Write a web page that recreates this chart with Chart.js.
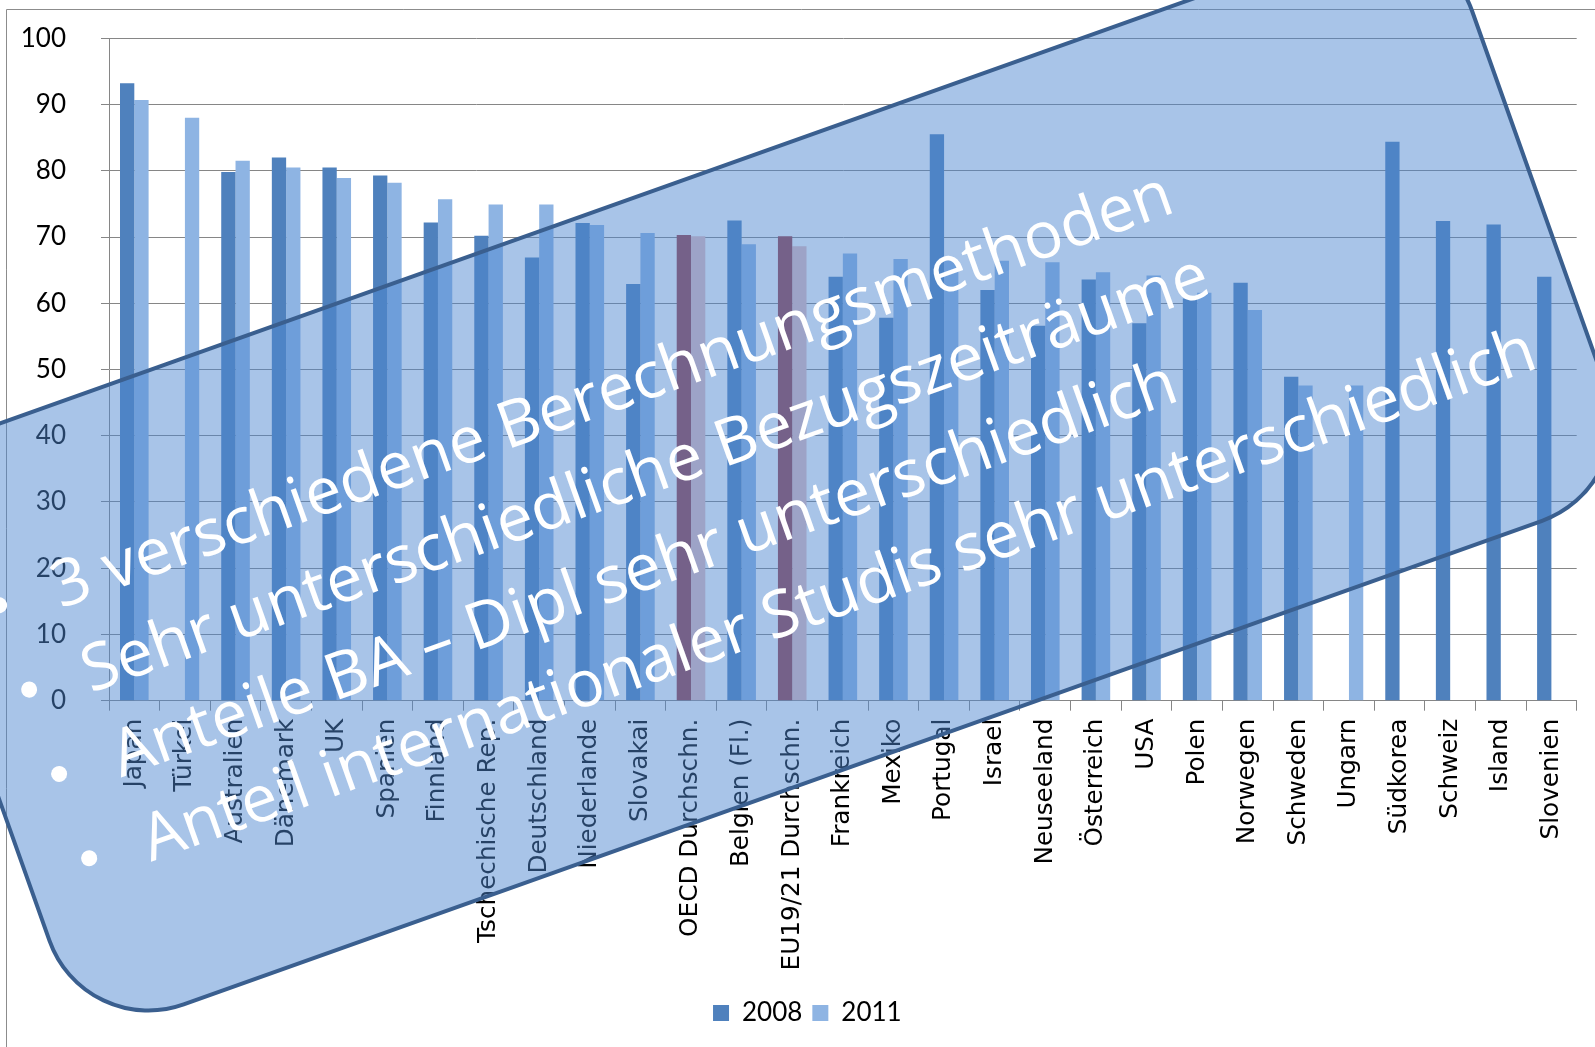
<!DOCTYPE html>
<html lang="de">
<head>
<meta charset="utf-8">
<title>Studienerfolg 2008 / 2011</title>
<script src="https://cdn.jsdelivr.net/npm/chart.js@4/dist/chart.umd.min.js"></script>
<style>
  html, body { margin: 0; padding: 0; background: #ffffff; }
  #wrap { width: 1595px; height: 1047px; }
</style>
</head>
<body>
<div id="wrap"><canvas id="chart" width="1595" height="1047"></canvas></div>
<script>
// Länder / Durchschnitte in Reihenfolge der Darstellung
const categories = [
  'Japan', 'Türkei', 'Australien', 'Dänemark', 'UK', 'Spanien', 'Finnland',
  'Tschechische Rep.', 'Deutschland', 'Niederlande', 'Slovakai', 'OECD Durchschn.',
  'Belgien (Fl.)', 'EU19/21 Durchschn.', 'Frankreich', 'Mexiko', 'Portugal', 'Israel',
  'Neuseeland', 'Österreich', 'USA', 'Polen', 'Norwegen', 'Schweden', 'Ungarn',
  'Südkorea', 'Schweiz', 'Island', 'Slovenien'
];

// Werte in Prozent (null = keine Angabe)
const values2008 = [
  93.2, null, 79.8, 82.0, 80.5, 79.3, 72.2,
  70.2, 66.9, 72.1, 62.9, 70.3,
  72.5, 70.1, 64.0, 57.8, 85.5, 62.0,
  56.6, 63.6, 57.0, 60.7, 63.1, 48.9, null,
  84.4, 72.4, 71.9, 64.0
];
const values2011 = [
  90.7, 88.0, 81.5, 80.5, 78.9, 78.2, 75.7,
  74.9, 74.9, 71.8, 70.6, 70.1,
  68.9, 68.6, 67.5, 66.7, 66.5, 66.4,
  66.2, 64.7, 64.2, 61.6, 59.0, 47.6, 47.6,
  null, null, null, null
];

const seriesLabels = ['2008', '2011'];
const averageRows = ['OECD Durchschn.', 'EU19/21 Durchschn.'];

const yMin = 0;
const yMax = 100;
const yStep = 10;

// Hinweise auf der Folie
const noteLines = [
  '3 verschiedene Berechnungsmethoden',
  'Sehr unterschiedliche Bezugszeiträume',
  'Anteile BA – Dipl sehr unterschiedlich',
  'Anteil internationaler Studis sehr unterschiedlich'
];

const COLORS = {
  y2008: '#4F81BD',
  y2011: '#8EB4E3',
  avg2008: '#9C3E46',
  avg2011: '#E9BFBF',
  grid: '#868686'
};

function isAverage(i) {
  return i !== undefined && averageRows.includes(categories[i]);
}

// weißer Hintergrund und Diagrammrahmen
const frame = {
  id: 'frame',
  beforeDraw(chart) {
    const ctx = chart.ctx;
    ctx.save();
    ctx.fillStyle = '#ffffff';
    ctx.fillRect(0, 0, chart.width, chart.height);
    ctx.strokeStyle = '#8c8c8c';
    ctx.lineWidth = 1;
    ctx.beginPath();
    ctx.moveTo(6.5, chart.height + 2);
    ctx.lineTo(6.5, 9.5);
    ctx.lineTo(chart.width + 2, 9.5);
    ctx.stroke();
    ctx.restore();
  }
};

// Legende etwas nach rechts rücken (zentriert unter dem ganzen Diagrammobjekt)
const legendShift = {
  id: 'legendShift',
  afterLayout(chart, args, opts) {
    if (chart.legend) {
      chart.legend.left += opts.dx;
    }
  }
};

// gedrehter Kasten mit Aufzählung über dem Diagramm
const notes = {
  id: 'notes',
  afterDraw(chart, args, opts) {
    const ctx = chart.ctx;
    ctx.save();
    ctx.translate(opts.x, opts.y);
    ctx.rotate(opts.angle * Math.PI / 180);

    ctx.beginPath();
    ctx.roundRect(0, 0, opts.w, opts.h, opts.r);
    ctx.fillStyle = opts.fill;
    ctx.fill();
    ctx.lineWidth = opts.lineWidth;
    ctx.strokeStyle = opts.stroke;
    ctx.stroke();

    // Schriftgröße so wählen, dass die längste Zeile die gewünschte Länge hat
    ctx.font = '100px "' + opts.family + '"';
    const ref = ctx.measureText(noteLines[noteLines.length - 1]).width;
    const size = 100 * opts.lastLineWidth / ref;
    ctx.font = size.toFixed(2) + 'px "' + opts.family + '"';
    ctx.fillStyle = '#ffffff';
    ctx.textBaseline = 'alphabetic';
    ctx.textAlign = 'left';

    noteLines.forEach((line, i) => {
      const t = opts.firstRow + i * opts.rowStep;
      ctx.beginPath();
      ctx.arc(opts.bulletX, t, opts.bulletR, 0, Math.PI * 2);
      ctx.fill();
      ctx.fillText(line, opts.textX, t + opts.baselineShift);
    });
    ctx.restore();
  }
};

const chart = new Chart(document.getElementById('chart'), {
  type: 'bar',
  data: {
    labels: categories,
    datasets: [
      {
        label: seriesLabels[0],
        data: values2008,
        backgroundColor: (c) => isAverage(c.dataIndex) ? COLORS.avg2008 : COLORS.y2008,
        categoryPercentage: 0.565,
        barPercentage: 1.0
      },
      {
        label: seriesLabels[1],
        data: values2011,
        backgroundColor: (c) => isAverage(c.dataIndex) ? COLORS.avg2011 : COLORS.y2011,
        categoryPercentage: 0.565,
        barPercentage: 1.0
      }
    ]
  },
  options: {
    responsive: false,
    animation: false,
    devicePixelRatio: 1,
    layout: { padding: { top: 38.3, left: 0, right: 18.3, bottom: 11 } },
    plugins: {
      legend: {
        position: 'bottom',
        labels: {
          boxWidth: 16,
          boxHeight: 16,
          padding: 10,
          color: '#000000',
          font: { family: 'Lato', size: 26 }
        }
      },
      legendShift: { dx: 38 },
      tooltip: { enabled: false },
      notes: {
        x: -119.5, y: 466, angle: -19.6,
        w: 1652, h: 609, r: 105,
        fill: 'rgba(78, 134, 208, 0.49)',
        stroke: '#3A5F8F',
        lineWidth: 4,
        family: 'Open Sans',
        lastLineWidth: 1475,
        firstRow: 171, rowStep: 89.5,
        bulletX: 65, bulletR: 8,
        textX: 122, baselineShift: 24
      }
    },
    scales: {
      x: {
        grid: {
          drawOnChartArea: false,
          drawTicks: true,
          tickLength: 10,
          color: COLORS.grid
        },
        border: { color: COLORS.grid },
        ticks: {
          autoSkip: false,
          minRotation: 90,
          maxRotation: 90,
          padding: 8,
          color: '#000000',
          font: { family: 'DejaVu Sans', size: 24.7 }
        },
        afterFit(scale) { scale.height = 289.3; }
      },
      y: {
        min: yMin,
        max: yMax,
        ticks: {
          stepSize: yStep,
          padding: 35,
          color: '#000000',
          font: { family: 'Lato', size: 26 }
        },
        grid: { color: COLORS.grid, tickLength: 8 },
        border: { color: COLORS.grid },
        afterFit(scale) {
          scale.width = 109;
          // der Abstand Beschriftung–Achse soll den Plotbereich nicht nach unten schieben
          scale.paddingTop = 0;
          scale.paddingBottom = 0;
        }
      }
    }
  },
  plugins: [frame, legendShift, notes]
});
</script>
</body>
</html>
